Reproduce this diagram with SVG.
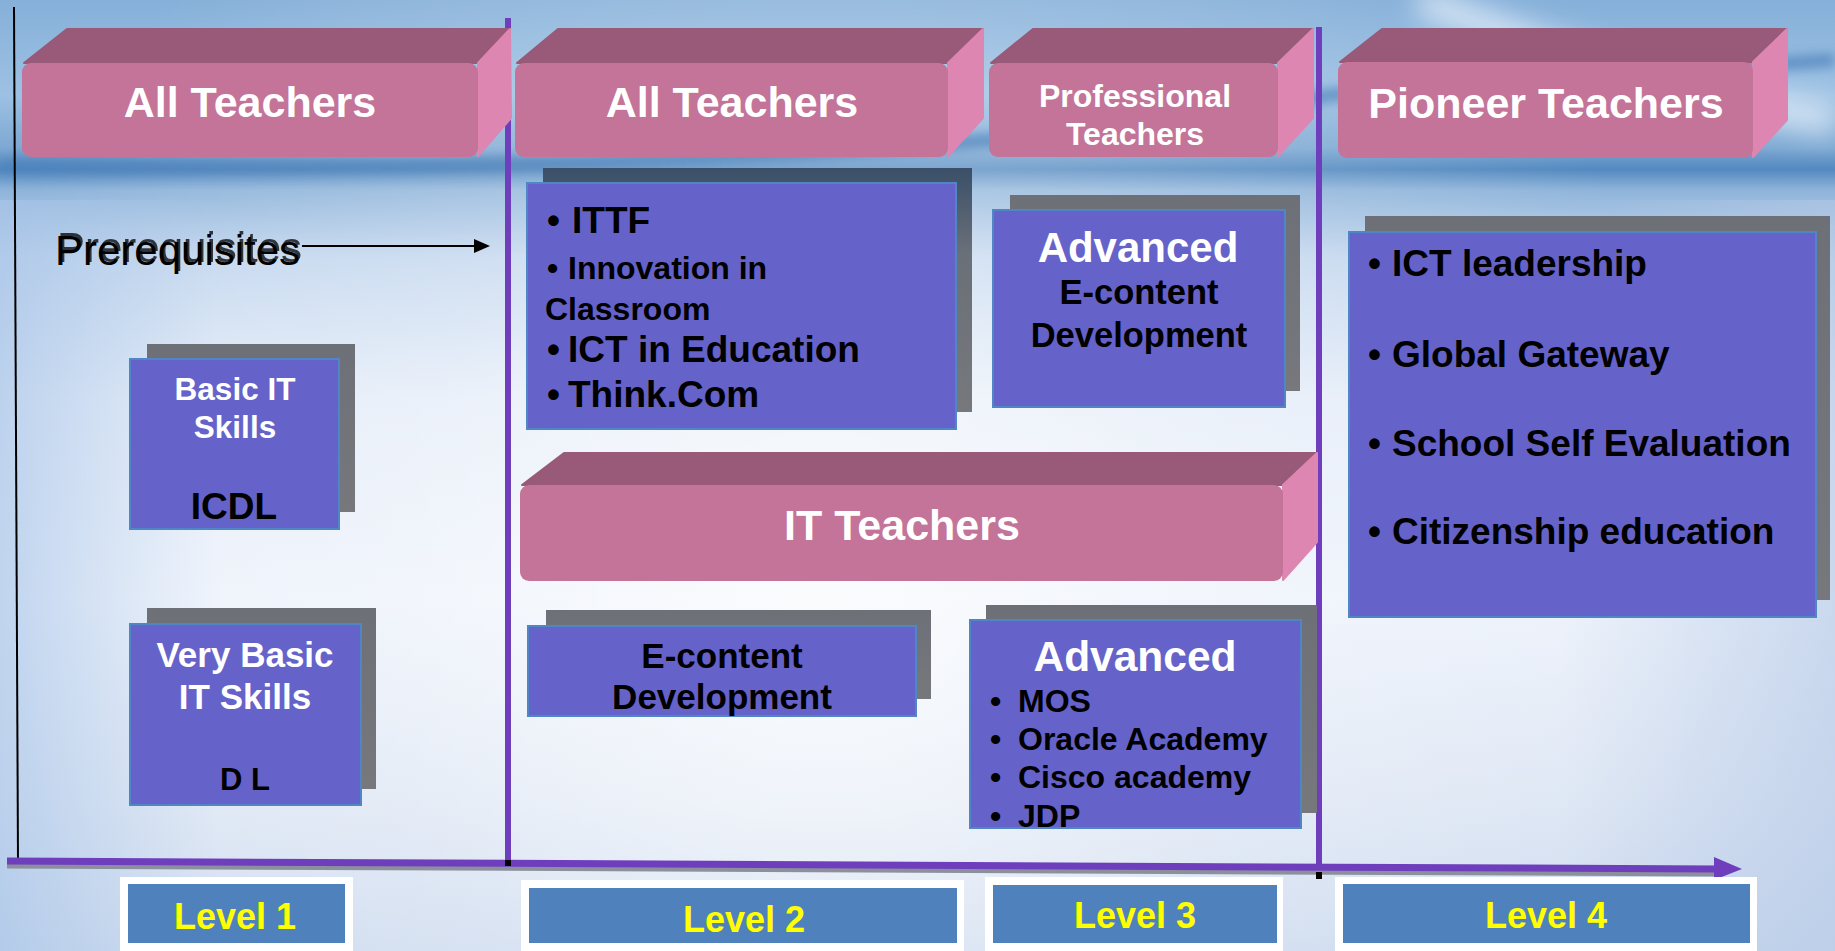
<svg xmlns="http://www.w3.org/2000/svg" width="1835" height="951" viewBox="0 0 1835 951">
<style>
.pf{fill:#c37498}
.pt{fill:#985a78;stroke:#985a78;stroke-width:2;stroke-linejoin:round}
.pr{fill:#de86b2;stroke:#de86b2;stroke-width:2;stroke-linejoin:round}
.bx{fill:#6563c9;stroke:#4f86c6;stroke-width:2}
.sh{fill:url(#shg)}
.t{font-family:"Liberation Sans",Arial,sans-serif;font-weight:bold}
.w{fill:#ffffff}
.k{fill:#000000}
.c{text-anchor:middle}
.lvf{fill:#ffffff}
.lvb{fill:#4f81bd}
.lvt{fill:#ffff00;font-size:36px}
.vl{stroke:#6e3ebd;stroke-width:6;fill:none}
</style>
<defs>
<linearGradient id="bg" x1="0" y1="0" x2="0" y2="1">
<stop offset="0" stop-color="#86b0d9"/>
<stop offset="0.1" stop-color="#9dc1e3"/>
<stop offset="0.155" stop-color="#7ea9d3"/>
<stop offset="0.178" stop-color="#5389c0"/>
<stop offset="0.2" stop-color="#8fb4da"/>
<stop offset="0.27" stop-color="#c2d6ee"/>
<stop offset="0.42" stop-color="#e4ecf8"/>
<stop offset="0.63" stop-color="#edf2fb"/>
<stop offset="0.84" stop-color="#dde6f4"/>
<stop offset="1" stop-color="#cbd9ee"/>
</linearGradient>
<radialGradient id="glow" cx="820" cy="620" r="900" gradientUnits="userSpaceOnUse">
<stop offset="0" stop-color="#ffffff" stop-opacity="0.75"/>
<stop offset="0.5" stop-color="#ffffff" stop-opacity="0.25"/>
<stop offset="1" stop-color="#ffffff" stop-opacity="0"/>
</radialGradient>
<linearGradient id="edgeL" x1="0" y1="0" x2="1" y2="0">
<stop offset="0" stop-color="#a9c5e8" stop-opacity="0.7"/>
<stop offset="0.12" stop-color="#a9c5e8" stop-opacity="0"/>
<stop offset="0.85" stop-color="#b4c8e6" stop-opacity="0"/>
<stop offset="1" stop-color="#b4c8e6" stop-opacity="0.6"/>
</linearGradient>
<linearGradient id="shg" x1="0" y1="0" x2="0" y2="1">
<stop offset="0" stop-color="#6d7077"/>
<stop offset="1" stop-color="#76787c"/>
</linearGradient>
<linearGradient id="shg2" x1="0" y1="0" x2="0" y2="1">
<stop offset="0" stop-color="#3a4f68"/>
<stop offset="0.35" stop-color="#6a7078"/>
<stop offset="1" stop-color="#76787c"/>
</linearGradient>
<filter id="blur" x="-10%" y="-50%" width="120%" height="200%">
<feGaussianBlur stdDeviation="6"/>
</filter>
<filter id="blur2" x="-10%" y="-50%" width="120%" height="200%">
<feGaussianBlur stdDeviation="14"/>
</filter>
</defs>

<g id="background">
<rect x="0" y="0" width="1835" height="951" fill="url(#bg)"/>
<rect x="0" y="200" width="1835" height="751" fill="url(#edgeL)"/>
<rect x="0" y="0" width="1835" height="951" fill="url(#glow)"/>
<path d="M0,166 C500,172 1000,160 1330,95 L1835,60" stroke="#4b80ba" stroke-width="12" fill="none" filter="url(#blur)" opacity="0.8"/>
<path d="M1420,0 C1520,40 1650,90 1835,120" stroke="#e6f0fa" stroke-width="30" fill="none" filter="url(#blur2)" opacity="0.8"/>
</g>

<g id="connectors">
<line x1="14" y1="7" x2="18" y2="862" stroke="#000" stroke-width="2"/>
<line class="vl" x1="508" y1="18" x2="508" y2="864"/>
<line class="vl" x1="1319" y1="27" x2="1319" y2="872"/>
<line x1="7" y1="866" x2="1722" y2="874" stroke="#8c8f9c" stroke-width="5"/>
<line x1="7" y1="861" x2="1718" y2="869" stroke="#6e3ebd" stroke-width="7"/>
<polygon points="1714,857 1742,869 1714,880" fill="#6e3ebd"/>
<rect x="505" y="860" width="6" height="6" fill="#000"/>
<rect x="1316" y="872" width="6" height="7" fill="#000"/>
<line x1="302" y1="246" x2="478" y2="246" stroke="#000" stroke-width="2"/>
<polygon points="474,239 490,246 474,253" fill="#000"/>
</g>

<g id="prereq">
<text class="t k" x="57" y="262" font-size="42" style="font-weight:normal" opacity="0.75">Prerequisites</text>
<text class="t k" x="55" y="265" font-size="42" style="font-weight:normal">Prerequisites</text>
</g>

<g id="hdr1">
<polygon class="pt" points="24,63 67,29 510,29 478,63"/>
<polygon class="pr" points="478,63 510,29 511,118 478,156"/>
<rect class="pf" x="22" y="63" width="456" height="94" rx="9"/>
<text class="t w c" x="250" y="117" font-size="43">All Teachers</text>
</g>

<g id="hdr2">
<polygon class="pt" points="517,63 558,29 983,29 948,63"/>
<polygon class="pr" points="948,63 983,29 983,118 948,156"/>
<rect class="pf" x="515" y="63" width="433" height="94" rx="9"/>
<text class="t w c" x="732" y="117" font-size="43">All Teachers</text>
</g>

<g id="hdr3">
<polygon class="pt" points="991,63 1033,29 1313,29 1278,63"/>
<polygon class="pr" points="1278,63 1313,29 1313,118 1278,156"/>
<rect class="pf" x="989" y="63" width="289" height="94" rx="9"/>
<text class="t w c" x="1135" y="107" font-size="32">Professional</text>
<text class="t w c" x="1135" y="145" font-size="32">Teachers</text>
</g>

<g id="hdr4">
<polygon class="pt" points="1340,62 1382,29 1787,29 1753,62"/>
<polygon class="pr" points="1753,62 1787,29 1787,120 1753,157"/>
<rect class="pf" x="1338" y="62" width="415" height="96" rx="9"/>
<text class="t w c" x="1546" y="118" font-size="43">Pioneer Teachers</text>
</g>

<g id="hdrIT">
<polygon class="pt" points="522,485 564,453 1317,453 1283,485"/>
<polygon class="pr" points="1283,485 1317,453 1317,542 1283,580"/>
<rect class="pf" x="520" y="485" width="763" height="96" rx="9"/>
<text class="t w c" x="902" y="540" font-size="43">IT Teachers</text>
</g>

<g id="basicIT">
<rect class="sh" x="147" y="344" width="208" height="168"/>
<rect class="bx" x="130" y="359" width="209" height="170"/>
<text class="t w c" x="235" y="400" font-size="31.5">Basic IT</text>
<text class="t w c" x="235" y="438" font-size="31.5">Skills</text>
<text class="t k c" x="234" y="519" font-size="37">ICDL</text>
</g>

<g id="veryBasic">
<rect class="sh" x="147" y="608" width="229" height="181"/>
<rect class="bx" x="130" y="624" width="231" height="181"/>
<text class="t w c" x="245" y="667" font-size="35">Very Basic</text>
<text class="t w c" x="245" y="709" font-size="35">IT Skills</text>
<text class="t k c" x="245" y="790" font-size="31">D L</text>
</g>

<g id="ittf">
<rect x="543" y="168" width="429" height="244" fill="url(#shg2)"/>
<rect class="bx" x="527" y="183" width="429" height="246"/>
<text class="t k" font-size="37"><tspan x="547" y="233">•</tspan><tspan x="572" y="233">ITTF</tspan></text>
<text class="t k" font-size="32"><tspan x="547" y="279">•</tspan><tspan x="568" y="279">Innovation in</tspan></text>
<text class="t k" x="545" y="320" font-size="32">Classroom</text>
<text class="t k" font-size="37"><tspan x="547" y="362">•</tspan><tspan x="568" y="362">ICT in Education</tspan></text>
<text class="t k" font-size="37"><tspan x="547" y="407">•</tspan><tspan x="568" y="407">Think.Com</tspan></text>
</g>

<g id="advEcontent">
<rect class="sh" x="1010" y="195" width="290" height="196"/>
<rect class="bx" x="993" y="210" width="292" height="197"/>
<text class="t w c" x="1138" y="262" font-size="42">Advanced</text>
<text class="t k c" x="1139" y="304" font-size="34.5">E-content</text>
<text class="t k c" x="1139" y="347" font-size="34.5">Development</text>
</g>

<g id="pioneerList">
<rect class="sh" x="1365" y="216" width="465" height="384"/>
<rect class="bx" x="1349" y="232" width="467" height="385"/>
<text class="t k" font-size="37"><tspan x="1368" y="276">•</tspan><tspan x="1392" y="276">ICT leadership</tspan></text>
<text class="t k" font-size="37"><tspan x="1368" y="367">•</tspan><tspan x="1392" y="367">Global Gateway</tspan></text>
<text class="t k" font-size="37"><tspan x="1368" y="456">•</tspan><tspan x="1392" y="456">School Self Evaluation</tspan></text>
<text class="t k" font-size="37"><tspan x="1368" y="544">•</tspan><tspan x="1392" y="544">Citizenship education</tspan></text>
</g>

<g id="econtent">
<rect class="sh" x="546" y="610" width="385" height="89"/>
<rect class="bx" x="528" y="626" width="388" height="90"/>
<text class="t k c" x="722" y="668" font-size="35">E-content</text>
<text class="t k c" x="722" y="709" font-size="35">Development</text>
</g>

<g id="advancedIT">
<rect class="sh" x="986" y="605" width="331" height="208"/>
<rect class="bx" x="970" y="620" width="331" height="208"/>
<text class="t w c" x="1135" y="671" font-size="42.5">Advanced</text>
<text class="t k" font-size="32"><tspan x="990" y="712">•</tspan><tspan x="1018" y="712">MOS</tspan></text>
<text class="t k" font-size="32"><tspan x="990" y="750">•</tspan><tspan x="1018" y="750">Oracle Academy</tspan></text>
<text class="t k" font-size="32"><tspan x="990" y="788">•</tspan><tspan x="1018" y="788">Cisco academy</tspan></text>
<text class="t k" font-size="32"><tspan x="990" y="827">•</tspan><tspan x="1018" y="827">JDP</tspan></text>
</g>

<g id="level1">
<rect class="lvf" x="120" y="877" width="233" height="74"/>
<rect class="lvb" x="128" y="884" width="217" height="59"/>
<text class="t lvt c" x="235" y="929" font-size="35">Level 1</text>
</g>
<g id="level2">
<rect class="lvf" x="521" y="880" width="443" height="71"/>
<rect class="lvb" x="529" y="888" width="428" height="55"/>
<text class="t lvt c" x="744" y="932">Level 2</text>
</g>
<g id="level3">
<rect class="lvf" x="985" y="877" width="298" height="74"/>
<rect class="lvb" x="993" y="885" width="284" height="58"/>
<text class="t lvt c" x="1135" y="928">Level 3</text>
</g>
<g id="level4">
<rect class="lvf" x="1335" y="877" width="422" height="74"/>
<rect class="lvb" x="1343" y="884" width="407" height="59"/>
<text class="t lvt c" x="1546" y="928">Level 4</text>
</g>
</svg>
